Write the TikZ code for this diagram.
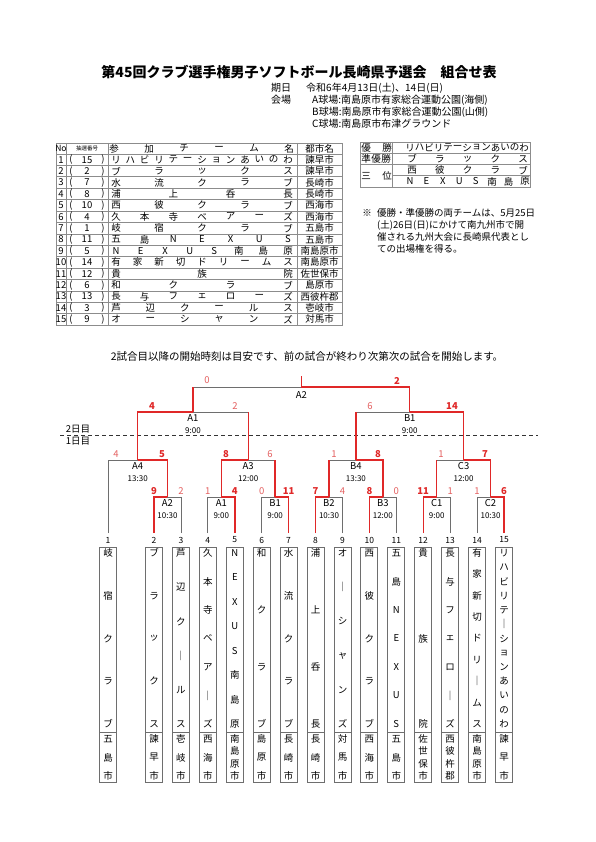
\documentclass[tikz,border=0pt]{standalone}
\usepackage{fontspec}
\setmainfont{Noto Sans CJK JP}
\usetikzlibrary{calc}
\definecolor{rl}{HTML}{E02828}
\definecolor{gl}{HTML}{6E6E6E}
\definecolor{ls}{HTML}{E46060}
\definecolor{tl}{HTML}{8C8C8C}
\makeatletter
\newcommand\spreadH[6]{%
  \edef\sp@t{#6}%
  \def\sp@n{0}%
  \def\sp@do{\@tfor\sp@c:=}%
  \expandafter\sp@do\sp@t\do{\pgfmathtruncatemacro\sp@n{\sp@n+1}}%
  \def\sp@i{0}%
  \expandafter\sp@do\sp@t\do{%
    \pgfmathtruncatemacro\sp@i{\sp@i+1}%
    \pgfmathsetmacro\sp@x{#2+(#3-#2)*(\sp@i-1)/(\sp@n-1)}%
    \node[#5] (#1-\sp@i) at (\sp@x,#4) {\sp@c};}%
}
\newcommand\spreadV[6]{%
  \edef\sp@t{#6}%
  \def\sp@n{0}%
  \def\sp@do{\@tfor\sp@c:=}%
  \expandafter\sp@do\sp@t\do{\pgfmathtruncatemacro\sp@n{\sp@n+1}}%
  \def\sp@i{0}%
  \expandafter\sp@do\sp@t\do{%
    \pgfmathtruncatemacro\sp@i{\sp@i+1}%
    \pgfmathsetmacro\sp@y{#3+(#4-#3)*(\sp@i-1)/(\sp@n-1)}%
    \node[#5] (#1-\sp@i) at (#2,\sp@y) {\sp@c};}%
}
\makeatother
\tikzset{
  txt/.style={inner sep=0pt, font=\fontsize{9.5}{9.5}\selectfont},
  vtxt/.style={inner sep=0pt, font=\fontsize{9.5}{9.5}\selectfont},
  hdr/.style={inner sep=0pt, font=\fontsize{10}{10}\selectfont, anchor=west},
  tline/.style={draw=tl, line width=0.6pt},
  win/.style={draw=rl, line width=1.4pt},
  lose/.style={draw=gl, line width=0.8pt},
  sw/.style={text=rl, inner sep=0pt, font=\fontsize{9.5}{9.5}\selectfont\bfseries},
  sl/.style={text=ls, inner sep=0pt, font=\fontsize{9.5}{9.5}\selectfont},
  mlab/.style={inner sep=0pt, font=\fontsize{9.5}{9.5}\selectfont},
  mtime/.style={inner sep=0pt, font=\fontsize{8}{8}\selectfont},
  tbox/.style={draw=gl, line width=1pt, minimum width=17pt, inner sep=0pt},
  num/.style={inner sep=0pt, font=\fontsize{8.5}{8.5}\selectfont}
}
\begin{document}
\begin{tikzpicture}[x=1pt,y=-1pt]
\fill[white] (0,0) rectangle (595,842);
\useasboundingbox (0,0) rectangle (595,842);
% title and header
\node[inner sep=0pt, font=\fontsize{14}{14}\selectfont\bfseries] (title) at (299,72) {第45回クラブ選手権男子ソフトボール長崎県予選会　組合せ表};
\node[hdr] (h1a) at (271,88) {期日};
\node[hdr] (h1b) at (306,88) {令和6年4月13日(土)、14日(日)};
\node[hdr] (h2a) at (271,100) {会場};
\node[hdr] (h2b) at (312,100) {A球場:南島原市有家総合運動公園(海側)};
\node[hdr] (h3b) at (312,112) {B球場:南島原市有家総合運動公園(山側)};
\node[hdr] (h4b) at (312,124) {C球場:南島原市布津グラウンド};
% left table
\draw[tline] (56,143) rectangle (342,325);
\foreach \k in {0,...,14} {\draw[tline] (56,154+\k*11.4) -- (342,154+\k*11.4);}
\foreach \xx in {66,108,297} {\draw[tline] (\xx,143) -- (\xx,325);}
\node[inner sep=0pt, font=\fontsize{8.5}{8.5}\selectfont] (hno) at (61,148.5) {No};
\node[inner sep=0pt, font=\fontsize{5.5}{5.5}\selectfont] (hdraw) at (87,148.5) {抽選番号};
\spreadH{hn}{114}{289}{148.5}{txt}{参加チーム名}
\node[txt] (hct) at (319.5,148.5) {都市名};
\foreach \n/\d/\nm/\ct in {1/15/リハビリテーションあいのわ/諫早市, 2/2/ブラックス/諫早市, 3/7/水流クラブ/長崎市, 4/8/浦上呑長/長崎市, 5/10/西彼クラブ/西海市, 6/4/久本寺ベアーズ/西海市, 7/1/岐宿クラブ/五島市, 8/11/五島NEXUS/五島市, 9/5/NEXUS南島原/南島原市, 10/14/有家新切ドリームス/南島原市, 11/12/貴族院/佐世保市, 12/6/和クラブ/島原市, 13/13/長与フェローズ/西彼杵郡, 14/3/芦辺クールス/壱岐市, 15/9/オーシャンズ/対馬市} {
  \pgfmathsetmacro\yy{154+(\n-0.5)*11.4}
  \node[txt] (no\n) at (61,\yy) {\n};
  \node[txt] (lp\n) at (71,\yy) {(};
  \node[txt] (dr\n) at (87,\yy) {\d};
  \node[txt] (rp\n) at (103,\yy) {)};
  \spreadH{tn\n}{116}{288}{\yy}{txt}{\nm}
  \node[txt] (ci\n) at (319.5,\yy) {\ct};
}
% right table
\draw[tline] (360,142) rectangle (530,187);
\draw[tline] (392,142) -- (392,187);
\draw[tline] (360,153.25) -- (530,153.25);
\draw[tline] (360,164.5) -- (530,164.5);
\draw[tline] (392,175.75) -- (530,175.75);
\spreadH{p1}{366}{387}{147.6}{txt}{優勝}
\spreadH{p2}{366}{386}{158.9}{txt}{準優勝}
\spreadH{p3}{366}{387}{175.9}{txt}{三位}
\spreadH{w1}{410}{524}{147.6}{txt}{リハビリテーションあいのわ}
\spreadH{w2}{412}{523}{158.9}{txt}{ブラックス}
\spreadH{w3}{412}{523}{170.1}{txt}{西彼クラブ}
\spreadH{w4}{410}{525}{181.4}{txt}{NEXUS南島原}
% note
\node[txt] (kome) at (367,213) {※};
\node[txt, anchor=west] (nt1) at (377,213) {優勝・準優勝の両チームは、5月25日};
\node[txt, anchor=west] (nt2) at (377,225) {(土)26日(日)にかけて南九州市で開};
\node[txt, anchor=west] (nt3) at (377,237) {催される九州大会に長崎県代表とし};
\node[txt, anchor=west] (nt4) at (377,249) {ての出場権を得る。};
% sentence
\node[inner sep=0pt, font=\fontsize{10.5}{10.5}\selectfont] (sent) at (307,357) {2試合目以降の開始時刻は目安です、前の試合が終わり次第次の試合を開始します。};
% day line
\coordinate (dl) at (60,435);
\coordinate (dr) at (538,435);
\draw[dash pattern=on 4pt off 3pt, line width=0.8pt, draw=black!80] (dl) -- (dr);
\node[txt] (day2) at (78,429.5) {2日目};
\node[txt] (day1) at (78,441) {1日目};
% team columns
\foreach \i/\x/\nm/\ct in {1/108/岐宿クラブ/五島市, 2/154/ブラックス/諫早市, 3/180.9/芦辺ク｜ルス/壱岐市, 4/207.8/久本寺ベア｜ズ/西海市, 5/234.8/NEXUS南島原/南島原市, 6/261.7/和クラブ/島原市, 7/288.6/水流クラブ/長崎市, 8/315.5/浦上呑長/長崎市, 9/342.5/オ｜シャンズ/対馬市, 10/369.4/西彼クラブ/西海市, 11/396.3/五島NEXUS/五島市, 12/423.2/貴族院/佐世保市, 13/450.2/長与フェロ｜ズ/西彼杵郡, 14/477.1/有家新切ドリ｜ムス/南島原市, 15/504/リハビリテ｜ションあいのわ/諫早市} {
  \node[tbox, minimum height=185pt] (b\i) at (\x,639.5) {};
  \node[tbox, minimum height=50pt] (c\i) at (\x,757) {};
  \node[num] (n\i) at (\x,540) {\i};
  \spreadV{nm\i}{\x}{553}{724}{vtxt}{\nm}
  \spreadV{ct\i}{\x}{739}{776}{vtxt}{\ct}
  \coordinate (t\i) at (\x,533);
}
% match points
\coordinate (mA2) at (167.45,497);
\coordinate (mA1) at (221.3,497);
\coordinate (mB1) at (275.15,497);
\coordinate (mB2) at (329,497);
\coordinate (mB3) at (382.85,497);
\coordinate (mC1) at (436.7,497);
\coordinate (mC2) at (490.55,497);
\coordinate (mA4) at (137.7,460);
\coordinate (mA3) at (248.2,460);
\coordinate (mB4) at (355.9,460);
\coordinate (mC3) at (463.6,460);
\coordinate (mD1) at (192.95,412);
\coordinate (mD2) at (409.75,412);
\coordinate (mF) at (301.35,387);
\coordinate (top) at (301.35,376);
% losing (grey) lines
\draw[lose] (t3) |- (mA2);
\draw[lose] (t4) |- (mA1);
\draw[lose] (t6) |- (mB1);
\draw[lose] (t9) |- (mB2);
\draw[lose] (t11) |- (mB3);
\draw[lose] (t13) |- (mC1);
\draw[lose] (t14) |- (mC2);
\draw[lose] (t1) |- (mA4);
\draw[lose] (mB1 |- mA3) -- (mA3);
\draw[lose] (mB2 |- mB4) -- (mB4);
\draw[lose] (mC1 |- mC3) -- (mC3);
\draw[lose] (mA3 |- mD1) -- (mD1);
\draw[lose] (mB4 |- mD2) -- (mD2);
\draw[lose] (mD1 |- mF) -- (mF);
% winning (red) lines
\draw[win] (t2) |- (mA2);
\draw[win] (t5) |- (mA1);
\draw[win] (t7) |- (mB1);
\draw[win] (t8) |- (mB2);
\draw[win] (t10) |- (mB3);
\draw[win] (t12) |- (mC1);
\draw[win] (t15) |- (mC2);
\draw[win] (mA2) |- (mA4);
\draw[win] (mA1) |- (mA3);
\draw[win] (mB3) |- (mB4);
\draw[win] (mC2) |- (mC3);
\draw[win] (mB1) -- (mB1 |- mA3);
\draw[win] (mB2) -- (mB2 |- mB4);
\draw[win] (mC1) -- (mC1 |- mC3);
\draw[win] (mA4) |- (mD1);
\draw[win] (mC3) |- (mD2);
\draw[win] (mA3) -- (mA3 |- mD1);
\draw[win] (mB4) -- (mB4 |- mD2);
\draw[win] (mD2) |- (mF);
\draw[win] (mD1) -- (mD1 |- mF);
\draw[win] (mF) -- (top);
% match labels
\foreach \m/\lab/\tm in {mA2/A2/10:30, mA1/A1/9:00, mB1/B1/9:00, mB2/B2/10:30, mB3/B3/12:00, mC1/C1/9:00, mC2/C2/10:30, mA4/A4/13:30, mA3/A3/12:00, mB4/B4/13:30, mC3/C3/12:00, mD1/A1/9:00, mD2/B1/9:00} {
  \node[mlab] (L\m) at ($(\m)+(0,6.5)$) {\lab};
  \node[mtime] (T\m) at ($(\m)+(0,18.5)$) {\tm};
}
\node[mlab] (LmF) at ($(mF)+(0,8)$) {A2};
% scores
\node[sw] (s1) at (154,491.5) {9};
\node[sl] (s2) at (180.9,491.5) {2};
\node[sl] (s3) at (207.8,491.5) {1};
\node[sw] (s4) at (234.8,491.5) {4};
\node[sl] (s5) at (261.7,491.5) {0};
\node[sw] (s6) at (288.6,491.5) {11};
\node[sw] (s7) at (315.5,491.5) {7};
\node[sl] (s8) at (342.5,491.5) {4};
\node[sw] (s9) at (369.4,491.5) {8};
\node[sl] (s10) at (396.3,491.5) {0};
\node[sw] (s11) at (423.2,491.5) {11};
\node[sl] (s12) at (450.2,491.5) {1};
\node[sl] (s13) at (477.1,491.5) {1};
\node[sw] (s14) at (504,491.5) {6};
\node[sl] (s15) at (116,454.5) {4};
\node[sw] (s16) at (162,454.5) {5};
\node[sw] (s17) at (226,454.5) {8};
\node[sl] (s18) at (270,454.5) {6};
\node[sl] (s19) at (334,454.5) {1};
\node[sw] (s20) at (378,454.5) {8};
\node[sl] (s21) at (441,454.5) {1};
\node[sw] (s22) at (485,454.5) {7};
\node[sw] (s23) at (152,406) {4};
\node[sl] (s24) at (235,406) {2};
\node[sl] (s25) at (370,406) {6};
\node[sw] (s26) at (452,406) {14};
\node[sl] (s27) at (207,380.5) {0};
\node[sw] (s28) at (397,380.5) {2};
\end{tikzpicture}
\end{document}
